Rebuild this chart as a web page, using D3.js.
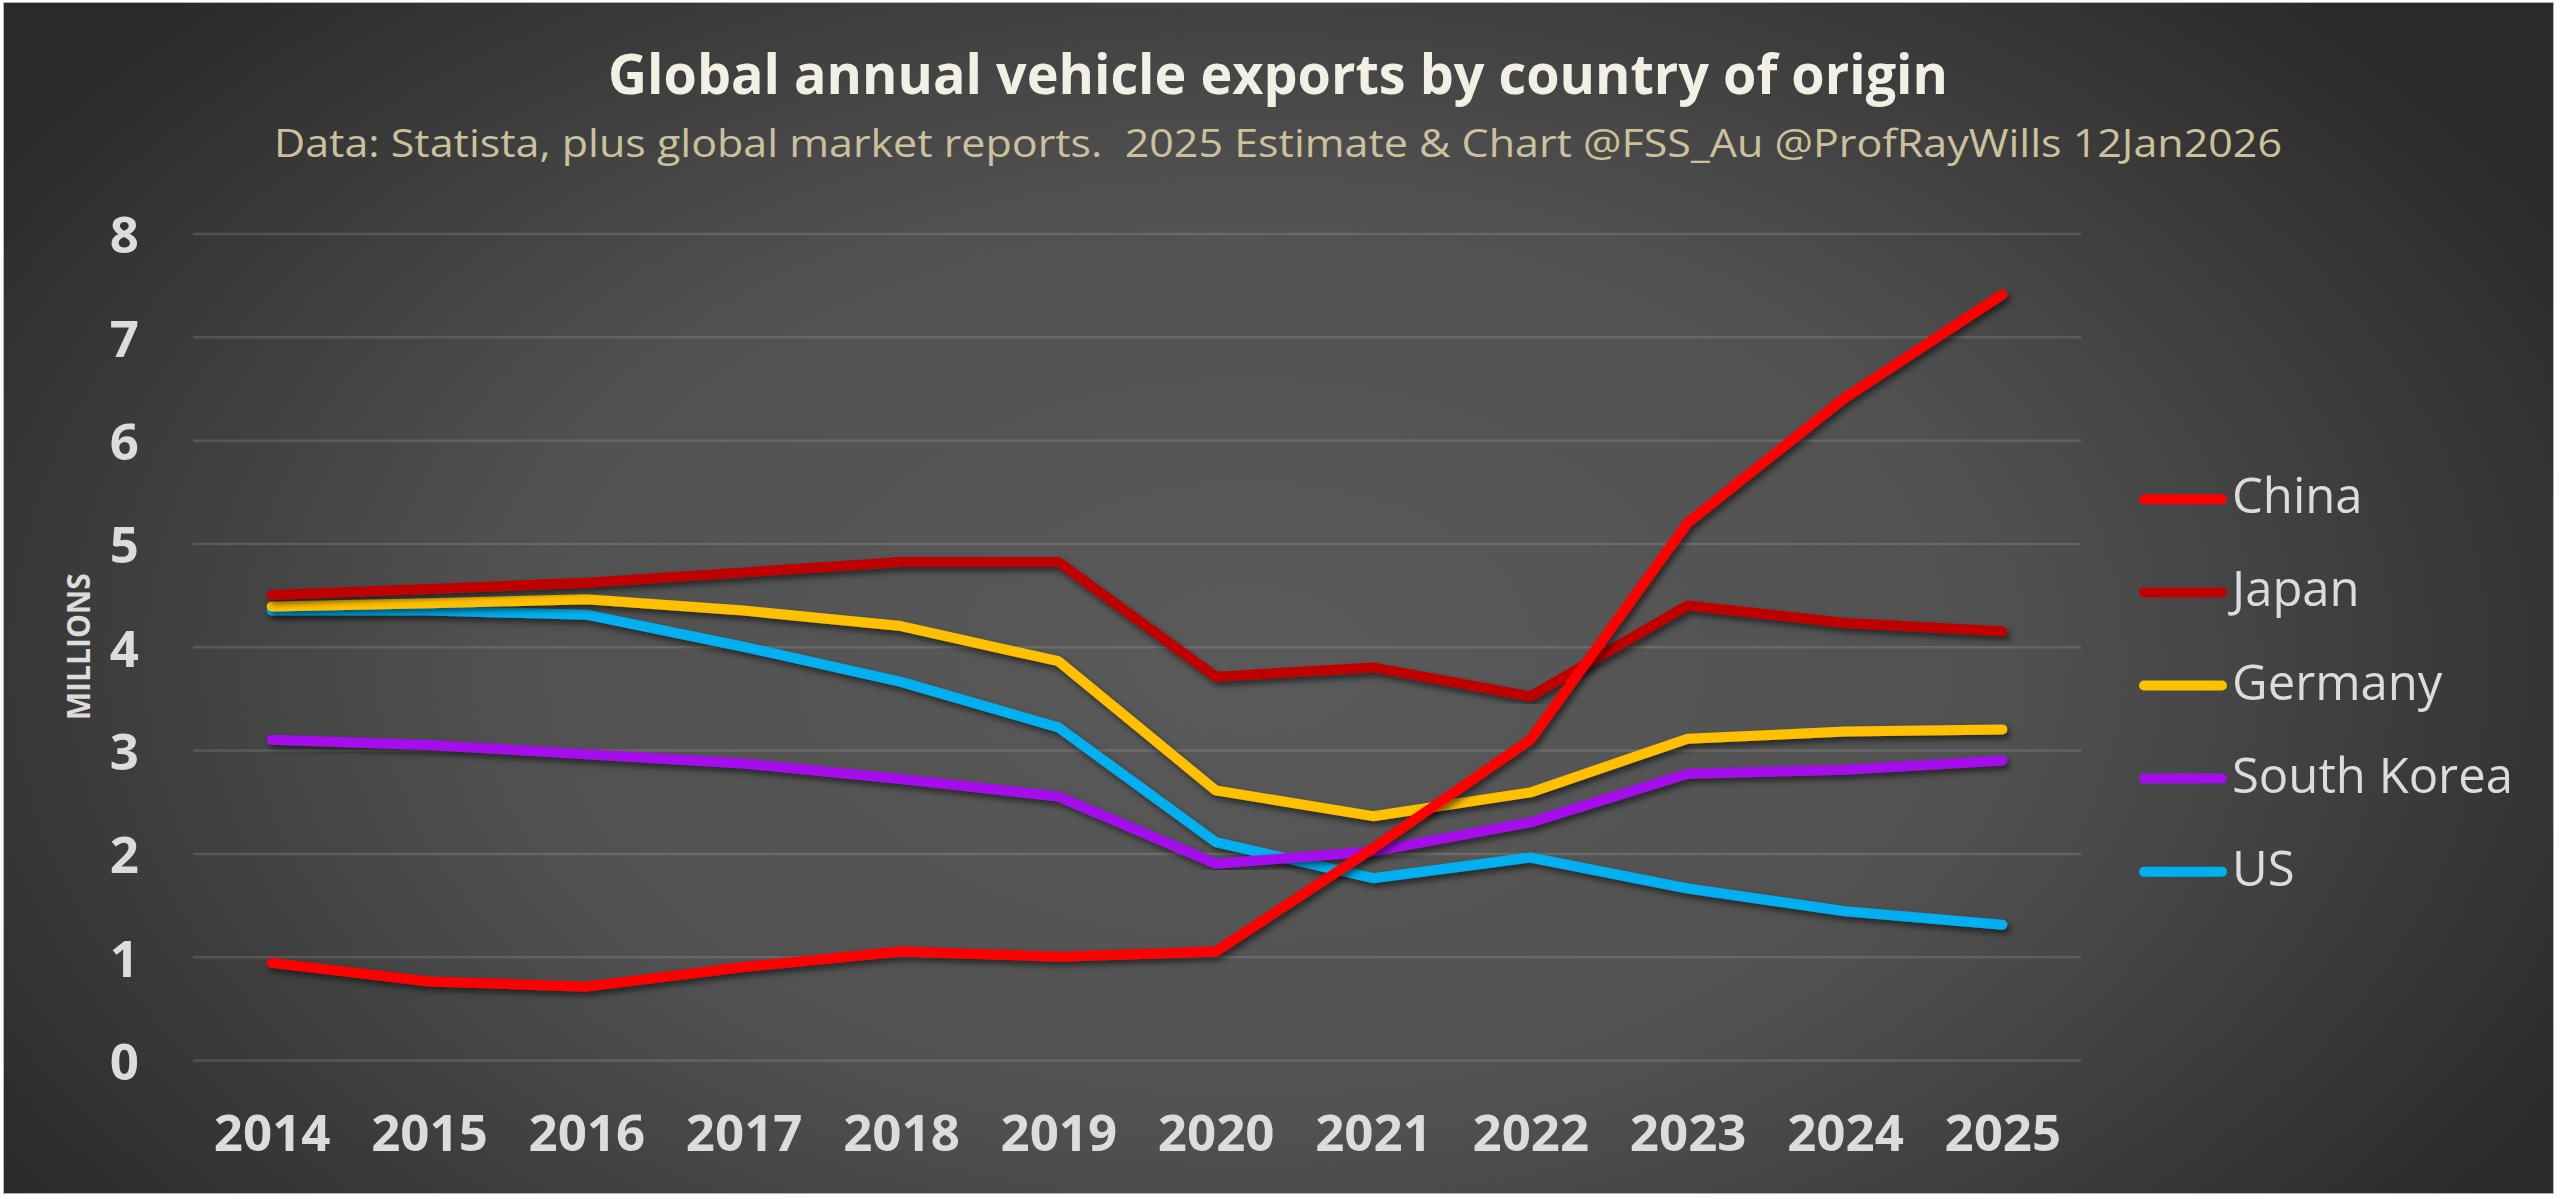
<!DOCTYPE html>
<html>
  <head>
    <meta charset="utf-8">
    <title>vehicle exports</title>
    <script src="https://d3js.org/d3.v7.min.js" charset="utf-8"></script>
    <style>
      body { margin: 0; background: #ffffff; }
      svg { display: block; }
    </style>
  </head>

  <body>
    <script type="text/javascript">

      //Width and height
      var w = 2560;
      var h = 1199;

      //Data (millions of vehicles)
      var years = ["2014", "2015", "2016", "2017", "2018", "2019", "2020", "2021", "2022", "2023", "2024", "2025"];
      var countries = ["China", "Japan", "Germany", "South Korea", "US"];
      var colors = ["#ff0000", "#c00000", "#ffc000", "#a60ded", "#00b0f0"];

      var china      = [0.94, 0.76, 0.71, 0.90, 1.05, 1.00, 1.05, 2.05, 3.10, 5.20, 6.41, 7.41];
      var japan      = [4.50, 4.56, 4.62, 4.72, 4.82, 4.82, 3.71, 3.80, 3.52, 4.40, 4.23, 4.15];
      var germany    = [4.39, 4.42, 4.46, 4.35, 4.20, 3.86, 2.61, 2.36, 2.59, 3.11, 3.18, 3.20];
      var southKorea = [3.10, 3.05, 2.96, 2.87, 2.72, 2.55, 1.90, 2.02, 2.30, 2.77, 2.81, 2.90];
      var us         = [4.35, 4.35, 4.31, 4.00, 3.66, 3.22, 2.11, 1.76, 1.96, 1.66, 1.44, 1.31];

      var yTicks = [0, 1, 2, 3, 4, 5, 6, 7, 8];

      var title = "Global annual vehicle exports by country of origin";
      var subtitle = "Data: Statista, plus global market reports.  2025 Estimate & Chart @FSS_Au @ProfRayWills 12Jan2026";
      var yTitle = "MILLIONS";

      var seriesValues = [china, japan, germany, southKorea, us];
      var series = countries.map(function(c, i) {
        return { name: c, color: colors[i], values: seriesValues[i] };
      });

      //Plot area
      var plotLeft = 193, plotRight = 2081, plotTop = 233.5, plotBottom = 1060;
      var font = "'Open Sans', 'Noto Sans', sans-serif";

      //Create SVG element
      var svg = d3.select("body")
                  .append("svg")
                  .attr("width", w)
                  .attr("height", h);

      var defs = svg.append("defs");

      //Background gradient (lighter in the middle)
      var grad = defs.append("radialGradient")
                     .attr("id", "bg")
                     .attr("gradientUnits", "userSpaceOnUse")
                     .attr("cx", 1250)
                     .attr("cy", 660)
                     .attr("r", 1500)
                     .attr("gradientTransform", "translate(1250,660) scale(1,0.62) translate(-1250,-660)");
      grad.append("stop").attr("offset", "0").attr("stop-color", "#5a5a5a");
      grad.append("stop").attr("offset", "0.5").attr("stop-color", "#515151");
      grad.append("stop").attr("offset", "1").attr("stop-color", "#2a2a2a");

      //Shadow under the lines
      var shadow = defs.append("filter")
                       .attr("id", "shadow")
                       .attr("x", "-5%").attr("y", "-5%")
                       .attr("width", "110%").attr("height", "110%");
      shadow.append("feDropShadow")
            .attr("dx", 3)
            .attr("dy", 4)
            .attr("stdDeviation", 3)
            .attr("flood-color", "#000000")
            .attr("flood-opacity", 0.55);

      svg.append("rect")
         .attr("x", 3.5)
         .attr("y", 2.5)
         .attr("width", 2550)
         .attr("height", 1191)
         .attr("fill", "url(#bg)")
         .attr("stroke", "#b4b4b4")
         .attr("stroke-width", 1);

      //Create scales
      var xScale = d3.scalePoint()
                     .domain(years)
                     .range([plotLeft, plotRight])
                     .padding(0.5);

      var yScale = d3.scaleLinear()
                     .domain([0, 8])
                     .range([plotBottom, plotTop]);

      //Y axis with gridlines
      var yAxis = svg.append("g")
                     .attr("transform", "translate(" + plotLeft + ",0)")
                     .call(d3.axisLeft(yScale)
                             .tickValues(yTicks)
                             .tickFormat(d3.format("d"))
                             .tickSizeInner(-(plotRight - plotLeft))
                             .tickSizeOuter(0)
                             .tickPadding(54));
      yAxis.select(".domain").remove();
      yAxis.selectAll(".tick line")
           .attr("stroke", "#ffffff")
           .attr("stroke-opacity", 0.13)
           .attr("stroke-width", 2.5);
      yAxis.selectAll(".tick text")
           .attr("dy", "0.38em")
           .attr("fill", "#dcdcdc")
           .attr("font-family", font)
           .attr("font-weight", "bold")
           .attr("font-size", "51px");

      //X axis labels
      var xAxis = svg.append("g")
                     .attr("transform", "translate(0," + plotBottom + ")")
                     .call(d3.axisBottom(xScale)
                             .tickSize(0)
                             .tickPadding(55));
      xAxis.select(".domain").remove();
      xAxis.selectAll(".tick text")
           .attr("fill", "#dcdcdc")
           .attr("font-family", font)
           .attr("font-weight", "bold")
           .attr("font-size", "51px");

      //Y axis title
      svg.append("text")
         .attr("transform", "translate(90," + ((plotTop + plotBottom) / 2) + ") rotate(-90)")
         .attr("text-anchor", "middle")
         .attr("textLength", 147)
         .attr("lengthAdjust", "spacingAndGlyphs")
         .attr("fill", "#dcdcdc")
         .attr("font-family", font)
         .attr("font-weight", "bold")
         .attr("font-size", "33px")
         .text(yTitle);

      //Create lines
      var line = d3.line()
                   .x(function(d, i) { return xScale(years[i]); })
                   .y(function(d) { return yScale(d); });

      svg.append("g")
         .selectAll("path")
         .data(series.slice().reverse())
         .enter()
         .append("path")
         .attr("d", function(d) { return line(d.values); })
         .attr("fill", "none")
         .attr("stroke", function(d) { return d.color; })
         .attr("stroke-width", 10)
         .attr("stroke-linecap", "round")
         .attr("stroke-linejoin", "round")
         .attr("filter", "url(#shadow)");

      //Legend
      var legend = svg.append("g")
                      .selectAll("g")
                      .data(series)
                      .enter()
                      .append("g")
                      .attr("transform", function(d, i) {
                        return "translate(2139," + (499.3 + i * 93.1) + ")";
                      });

      legend.append("line")
            .attr("x1", 5)
            .attr("x2", 83)
            .attr("stroke", function(d) { return d.color; })
            .attr("stroke-width", 10)
            .attr("stroke-linecap", "round");

      legend.append("text")
            .attr("x", 93)
            .attr("y", 14)
            .attr("fill", "#dcdcdc")
            .attr("font-family", font)
            .attr("font-size", "49px")
            .text(function(d) { return d.name; });

      //Title and subtitle
      svg.append("text")
         .attr("x", 1278)
         .attr("y", 93.8)
         .attr("text-anchor", "middle")
         .attr("textLength", 1340)
         .attr("lengthAdjust", "spacingAndGlyphs")
         .attr("fill", "#f2f0e5")
         .attr("font-family", font)
         .attr("font-weight", "bold")
         .attr("font-size", "55px")
         .text(title);

      svg.append("text")
         .attr("x", 1278)
         .attr("y", 157)
         .attr("text-anchor", "middle")
         .attr("textLength", 2008)
         .attr("lengthAdjust", "spacingAndGlyphs")
         .style("white-space", "pre")
         .attr("fill", "#cbc29c")
         .attr("font-family", font)
         .attr("font-size", "38px")
         .text(subtitle);

    </script>
  </body>
</html>
